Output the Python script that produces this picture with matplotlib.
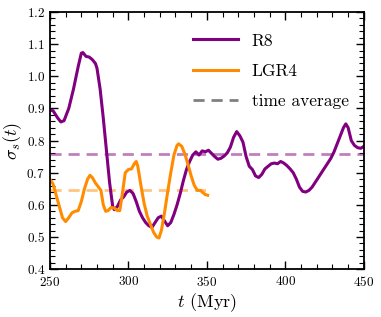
import matplotlib
matplotlib.use("Agg")
import matplotlib.pyplot as plt
from matplotlib.ticker import MultipleLocator

plt.rcParams['font.family'] = 'serif'
plt.rcParams['font.serif'] = ['cmr10', 'DejaVu Serif']
plt.rcParams['mathtext.fontset'] = 'cm'
plt.rcParams['axes.formatter.use_mathtext'] = True

r8_t = [250, 252, 255, 257, 259, 262, 265, 268, 270, 271, 273, 275, 277, 279, 280,
        282, 284, 286, 288, 290, 291, 293, 295, 297, 299, 301, 303, 305, 307, 309,
        311, 313, 315, 317, 319, 321, 323, 325, 327, 329, 331, 333, 335, 337, 339,
        341, 343, 345, 347, 349, 351, 353, 355, 357, 359, 361, 363, 365, 367, 369,
        371, 373, 375, 377, 379, 381, 383, 385, 387, 389, 391, 393, 395, 397, 399,
        401, 403, 405, 407, 409, 411, 413, 415, 417, 419, 421, 423, 425, 427, 429,
        431, 433, 435, 437, 438.5, 440, 442, 444, 446, 448, 450]
r8_s = [0.895, 0.893, 0.87, 0.858, 0.862, 0.90, 0.96, 1.03, 1.072, 1.074, 1.062, 1.06, 1.052, 1.04, 1.025,
        0.96, 0.87, 0.77, 0.67, 0.595, 0.585, 0.595, 0.615, 0.625, 0.64, 0.645, 0.635, 0.61, 0.58, 0.56,
        0.545, 0.535, 0.53, 0.545, 0.56, 0.565, 0.55, 0.535, 0.545, 0.57, 0.60, 0.635, 0.675, 0.71, 0.735,
        0.755, 0.765, 0.755, 0.768, 0.765, 0.77, 0.76, 0.75, 0.742, 0.745, 0.752, 0.762, 0.78, 0.81, 0.828,
        0.815, 0.795, 0.75, 0.72, 0.71, 0.69, 0.685, 0.695, 0.712, 0.72, 0.728, 0.73, 0.728, 0.735, 0.73,
        0.722, 0.712, 0.70, 0.68, 0.655, 0.642, 0.64, 0.645, 0.655, 0.67, 0.685, 0.70, 0.715, 0.73, 0.745,
        0.765, 0.79, 0.815, 0.84, 0.852, 0.84, 0.80, 0.785, 0.778, 0.776, 0.782]

lgr_t = [250, 252, 254, 256, 258, 260, 262, 264, 266, 268, 270, 272, 274, 275.5, 277,
         279, 281, 282.5, 284, 285.5, 287, 289, 291, 293, 294.5, 296, 298, 300, 302, 304,
         305, 306, 308, 310, 312, 314, 316, 318, 319.5, 321, 323, 325, 327, 329, 331,
         332, 334, 336, 338, 340, 342, 344, 346, 347, 349, 350.5]
lgr_s = [0.68, 0.665, 0.63, 0.595, 0.56, 0.548, 0.56, 0.575, 0.58, 0.582, 0.61, 0.65, 0.68, 0.692, 0.685,
         0.668, 0.655, 0.645, 0.60, 0.58, 0.582, 0.592, 0.59, 0.582, 0.582, 0.63, 0.70, 0.71, 0.712, 0.73,
         0.735, 0.72, 0.66, 0.605, 0.565, 0.54, 0.515, 0.50, 0.497, 0.52, 0.575, 0.64, 0.70, 0.755, 0.785,
         0.79, 0.782, 0.758, 0.725, 0.69, 0.66, 0.645, 0.645, 0.64, 0.632, 0.63]

r8_avg = 0.757
lgr_avg = 0.647
r8_range = [250, 450]
lgr_range = [250, 350]

purple = '#800080'
orange = '#ff8c00'

fig = plt.figure(figsize=(3.81, 3.17), dpi=100)
ax = fig.add_axes([0.131, 0.151, 0.824, 0.811])

ax.plot(r8_range, [r8_avg, r8_avg], color=purple, alpha=0.5, lw=2.0, ls=(0, (4, 2.5)))
ax.plot(lgr_range, [lgr_avg, lgr_avg], color=orange, alpha=0.5, lw=2.0, ls=(0, (4, 2.5)))
ax.plot(r8_t, r8_s, color=purple, lw=2.2, label='R8')
ax.plot(lgr_t, lgr_s, color=orange, lw=2.2, label='LGR4')
ax.plot([], [], color='gray', lw=2.0, ls=(0, (4, 2.5)), label='time average')

ax.set_xlim(250, 450)
ax.set_ylim(0.4, 1.2)
ax.xaxis.set_major_locator(MultipleLocator(50))
ax.xaxis.set_minor_locator(MultipleLocator(10))
ax.yaxis.set_major_locator(MultipleLocator(0.1))
ax.yaxis.set_minor_locator(MultipleLocator(0.02))
ax.tick_params(which='both', direction='in', top=True, right=True, labelsize=9.5, colors='black')
ax.tick_params(which='major', length=6, width=1.0)
ax.tick_params(which='minor', length=3.5, width=0.8)
for s in ax.spines.values():
    s.set_linewidth(1.3)
ax.tick_params(axis='x', pad=4)

ax.set_xlabel(r'$t$ (Myr)', fontsize=13, labelpad=2)
ax.set_ylabel(r'$\sigma_s(t)$', fontsize=13, labelpad=2)

ax.legend(loc='upper right', frameon=False, fontsize=12.5, handlelength=2.6,
          borderaxespad=0.3, labelspacing=0.85, bbox_to_anchor=(0.99, 0.965))

fig.savefig('out.png', dpi=100)
